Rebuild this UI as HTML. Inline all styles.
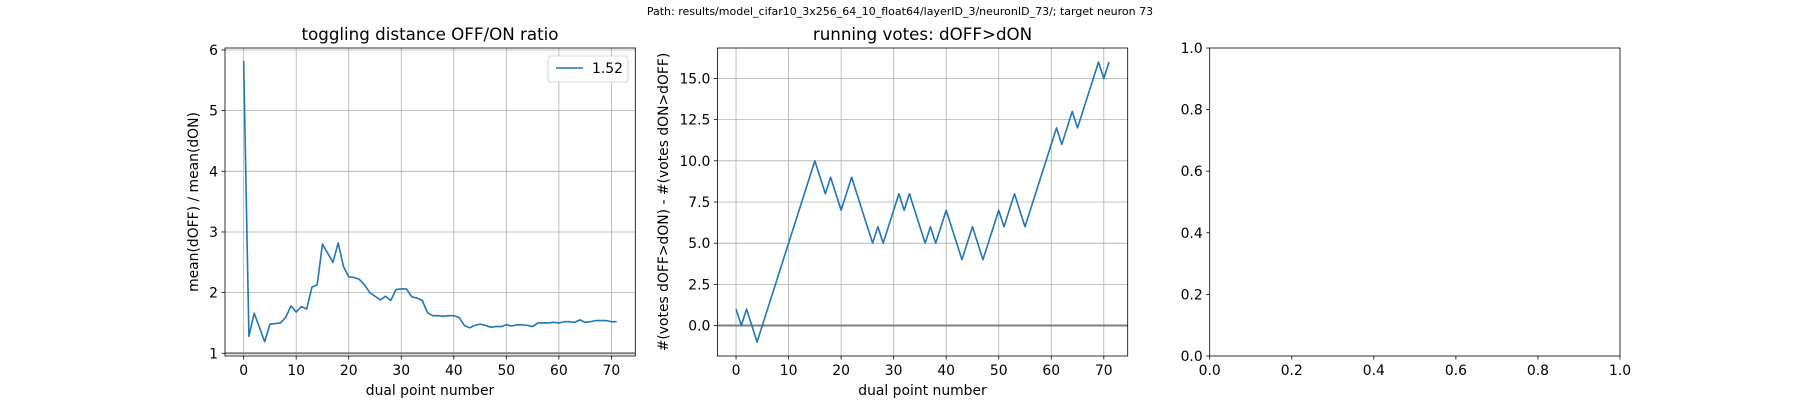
<!DOCTYPE html>
<html><head><meta charset="utf-8"><style>
body{margin:0;background:#fff;}
svg{display:block;font-family:"DejaVu Sans","Liberation Sans",sans-serif;}
</style></head><body>
<svg id="fig" width="1800" height="400" viewBox="0 0 1800 400"></svg>
<script>
const xs = Array.from({length:72},(_,i)=>i);
const ratioValues = [5.82,1.28,1.66,1.43,1.19,1.48,1.49,1.50,1.59,1.78,1.68,1.77,1.73,2.09,2.13,2.80,2.65,2.50,2.82,2.43,2.26,2.25,2.22,2.13,2.00,1.94,1.88,1.94,1.87,2.05,2.06,2.06,1.93,1.91,1.87,1.67,1.62,1.62,1.61,1.62,1.62,1.59,1.46,1.42,1.46,1.48,1.46,1.43,1.44,1.44,1.47,1.45,1.47,1.47,1.46,1.44,1.50,1.50,1.50,1.51,1.50,1.52,1.52,1.51,1.55,1.51,1.52,1.54,1.54,1.54,1.52,1.52];
const voteValues = [1,0,1,0,-1,0,1,2,3,4,5,6,7,8,9,10,9,8,9,8,7,8,9,8,7,6,5,6,5,6,7,8,7,8,7,6,5,6,5,6,7,6,5,4,5,6,5,4,5,6,7,6,7,8,7,6,7,8,9,10,11,12,11,12,13,12,13,14,15,16,15,16];
const xTicks = [0,10,20,30,40,50,60,70];
const ratioYTicks = [1,2,3,4,5,6];
const voteYTicks = [0,2.5,5,7.5,10,12.5,15];
const voteYLabels = ["0.0","2.5","5.0","7.5","10.0","12.5","15.0"];
const emptyTicks = [0,0.2,0.4,0.6,0.8,1.0];
const emptyLabels = ["0.0","0.2","0.4","0.6","0.8","1.0"];

const NS="http://www.w3.org/2000/svg";
const svg=document.getElementById('fig');
function mk(tag,attrs,parent,text){const e=document.createElementNS(NS,tag);for(const k in attrs)e.setAttribute(k,attrs[k]);if(text!==undefined)e.textContent=text;(parent||svg).appendChild(e);return e;}

const T=48,B=356;
function axes(left,right,xmin,xmax,ymin,ymax){
  return {L:left,R:right,sx:v=>left+(v-xmin)/(xmax-xmin)*(right-left),sy:v=>B-(v-ymin)/(ymax-ymin)*(B-T)};
}
function drawAxes(ax,xt,xl,yt,yl,grid,name){
  const g=mk('g',{});
  
  
  xt.forEach((v,i)=>{const x=ax.sx(v);
    if(grid){const l=mk('line',{x1:x,x2:x,y1:T,y2:B,stroke:'#b0b0b0','stroke-width':0.8},g);}
    mk('line',{x1:x,x2:x,y1:B,y2:B+3.5,stroke:'#000','stroke-width':0.8},g);
    const t=mk('text',{x:x,y:B+19,'font-size':13.9,'text-anchor':'middle'},g,xl[i]);});
  yt.forEach((v,i)=>{const y=ax.sy(v);
    if(grid){const l=mk('line',{x1:ax.L,x2:ax.R,y1:y,y2:y,stroke:'#b0b0b0','stroke-width':0.8},g);}
    mk('line',{x1:ax.L-3.5,x2:ax.L,y1:y,y2:y,stroke:'#000','stroke-width':0.8},g);
    const t=mk('text',{x:ax.L-7,y:y+5,'font-size':13.9,'text-anchor':'end'},g,yl[i]);});
  return g;
}
function frame(ax,g){const r=mk('rect',{x:ax.L,y:T,width:ax.R-ax.L,height:B-T,fill:'none',stroke:'#000','stroke-width':0.8},g);}
function line(ax,xv,yv,g){const p=mk('polyline',{points:xv.map((x,i)=>ax.sx(x)+','+ax.sy(yv[i])).join(' '),fill:'none',stroke:'#1f77b4','stroke-width':1.6,'stroke-linejoin':'round'},g);return p;}

const st=mk('text',{x:900,y:15,'font-size':11,'text-anchor':'middle'},svg,'Path: results/model_cifar10_3x256_64_10_float64/layerID_3/neuronID_73/; target neuron 73');



const a1=axes(225,635.3,-3.55,74.55,0.955,6.033);
const g1=drawAxes(a1,xTicks,xTicks.map(String),ratioYTicks,ratioYTicks.map(String),true,'ratio-chart');
const h1=mk('line',{x1:a1.L,x2:a1.R,y1:a1.sy(1),y2:a1.sy(1),stroke:'#808080','stroke-width':2},g1);


const l1=line(a1,xs,ratioValues,g1);


frame(a1,g1);
let t=mk('text',{x:430,y:40,'font-size':16.7,'text-anchor':'middle'},g1,'toggling distance OFF/ON ratio');


t=mk('text',{x:430,y:395,'font-size':13.9,'text-anchor':'middle'},g1,'dual point number');


t=mk('text',{x:0,y:0,'font-size':13.9,'text-anchor':'middle',transform:'translate(198,202) rotate(-90)'},g1,'mean(dOFF) / mean(dON)');


const lg=mk('g',{},g1);


mk('rect',{x:548,y:56,width:80,height:26,rx:3,fill:'#fff',stroke:'#ccc','stroke-width':0.8},lg);
mk('line',{x1:556,x2:583,y1:68,y2:68,stroke:'#1f77b4','stroke-width':1.5},lg);
t=mk('text',{x:592,y:73,'font-size':13.9},lg,'1.52');



const a2=axes(717.4,1127.7,-3.55,74.55,-1.85,16.85);
const g2=drawAxes(a2,xTicks,xTicks.map(String),voteYTicks,voteYLabels,true,'votes-chart');
const h2=mk('line',{x1:a2.L,x2:a2.R,y1:a2.sy(0),y2:a2.sy(0),stroke:'#808080','stroke-width':2},g2);


const l2=line(a2,xs,voteValues,g2);


frame(a2,g2);
t=mk('text',{x:922.5,y:40,'font-size':16.7,'text-anchor':'middle'},g2,'running votes: dOFF>dON');


t=mk('text',{x:922.5,y:395,'font-size':13.9,'text-anchor':'middle'},g2,'dual point number');


t=mk('text',{x:0,y:0,'font-size':13.9,'text-anchor':'middle',transform:'translate(668,202) rotate(-90)'},g2,'#(votes dOFF>dON) - #(votes dON>dOFF)');



const a3=axes(1209.7,1620,0,1,0,1);
const g3=drawAxes(a3,emptyTicks,emptyLabels,emptyTicks,emptyLabels,false,'empty-chart');
frame(a3,g3);
</script>
</body></html>
